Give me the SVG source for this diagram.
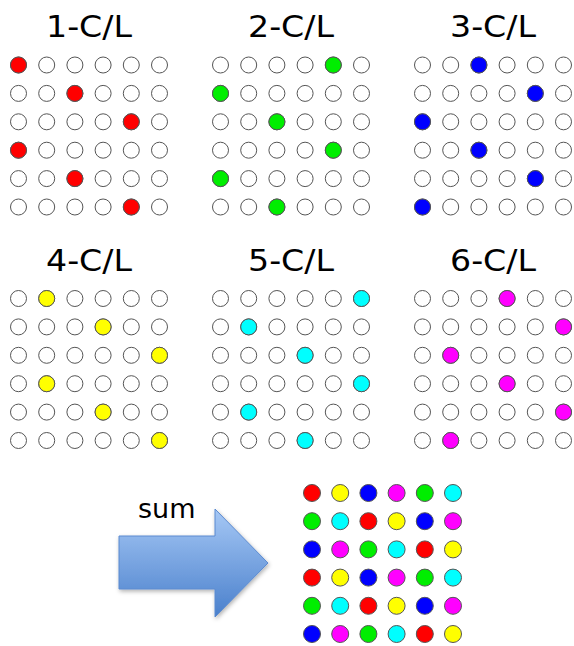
<svg xmlns="http://www.w3.org/2000/svg" xmlns:xlink="http://www.w3.org/1999/xlink" width="574" height="646" viewBox="0 0 574 646">
<style>
.t{font-family:"DejaVu Sans","Liberation Sans",sans-serif;font-size:31px;fill:#000;text-anchor:middle}
.s{font-family:"DejaVu Sans","Liberation Sans",sans-serif;font-size:27px;fill:#000}
circle{stroke:#555;stroke-width:1}
.w{fill:#fff}
.r{fill:#ff0000}.g{fill:#00ee00}.b{fill:#0000ff}.y{fill:#ffff00}.c{fill:#00ffff}.m{fill:#ff00ff}
</style>
<defs>
<g id="grid">
<circle class="w" cx="0" cy="0" r="8"/><circle class="w" cx="28.2" cy="0" r="8"/><circle class="w" cx="56.4" cy="0" r="8"/><circle class="w" cx="84.6" cy="0" r="8"/><circle class="w" cx="112.8" cy="0" r="8"/><circle class="w" cx="141" cy="0" r="8"/>
<circle class="w" cx="0" cy="28.4" r="8"/><circle class="w" cx="28.2" cy="28.4" r="8"/><circle class="w" cx="56.4" cy="28.4" r="8"/><circle class="w" cx="84.6" cy="28.4" r="8"/><circle class="w" cx="112.8" cy="28.4" r="8"/><circle class="w" cx="141" cy="28.4" r="8"/>
<circle class="w" cx="0" cy="56.8" r="8"/><circle class="w" cx="28.2" cy="56.8" r="8"/><circle class="w" cx="56.4" cy="56.8" r="8"/><circle class="w" cx="84.6" cy="56.8" r="8"/><circle class="w" cx="112.8" cy="56.8" r="8"/><circle class="w" cx="141" cy="56.8" r="8"/>
<circle class="w" cx="0" cy="85.2" r="8"/><circle class="w" cx="28.2" cy="85.2" r="8"/><circle class="w" cx="56.4" cy="85.2" r="8"/><circle class="w" cx="84.6" cy="85.2" r="8"/><circle class="w" cx="112.8" cy="85.2" r="8"/><circle class="w" cx="141" cy="85.2" r="8"/>
<circle class="w" cx="0" cy="113.6" r="8"/><circle class="w" cx="28.2" cy="113.6" r="8"/><circle class="w" cx="56.4" cy="113.6" r="8"/><circle class="w" cx="84.6" cy="113.6" r="8"/><circle class="w" cx="112.8" cy="113.6" r="8"/><circle class="w" cx="141" cy="113.6" r="8"/>
<circle class="w" cx="0" cy="142" r="8"/><circle class="w" cx="28.2" cy="142" r="8"/><circle class="w" cx="56.4" cy="142" r="8"/><circle class="w" cx="84.6" cy="142" r="8"/><circle class="w" cx="112.8" cy="142" r="8"/><circle class="w" cx="141" cy="142" r="8"/>
</g>
<linearGradient id="ag" gradientUnits="userSpaceOnUse" x1="0" y1="509" x2="0" y2="617">
<stop offset="0" stop-color="#a6c8f5"/>
<stop offset="1" stop-color="#4a80cc"/>
</linearGradient>
<filter id="sh" x="-20%" y="-20%" width="140%" height="140%">
<feDropShadow dx="1" dy="2" stdDeviation="2" flood-color="#000" flood-opacity="0.3"/>
</filter>
</defs>

<g id="cl1" transform="translate(18.5,65)">
<text class="t" x="70.5" y="-28" textLength="86" lengthAdjust="spacingAndGlyphs">1-C/L</text>
<use xlink:href="#grid"/>
<circle class="r" cx="0" cy="0" r="8"/><circle class="r" cx="56.4" cy="28.4" r="8"/><circle class="r" cx="112.8" cy="56.8" r="8"/><circle class="r" cx="0" cy="85.2" r="8"/><circle class="r" cx="56.4" cy="113.6" r="8"/><circle class="r" cx="112.8" cy="142" r="8"/>
</g>
<g id="cl2" transform="translate(220.5,65)">
<text class="t" x="70.5" y="-28" textLength="86" lengthAdjust="spacingAndGlyphs">2-C/L</text>
<use xlink:href="#grid"/>
<circle class="g" cx="112.8" cy="0" r="8"/><circle class="g" cx="0" cy="28.4" r="8"/><circle class="g" cx="56.4" cy="56.8" r="8"/><circle class="g" cx="112.8" cy="85.2" r="8"/><circle class="g" cx="0" cy="113.6" r="8"/><circle class="g" cx="56.4" cy="142" r="8"/>
</g>
<g id="cl3" transform="translate(422.5,65)">
<text class="t" x="70.5" y="-28" textLength="86" lengthAdjust="spacingAndGlyphs">3-C/L</text>
<use xlink:href="#grid"/>
<circle class="b" cx="56.4" cy="0" r="8"/><circle class="b" cx="112.8" cy="28.4" r="8"/><circle class="b" cx="0" cy="56.8" r="8"/><circle class="b" cx="56.4" cy="85.2" r="8"/><circle class="b" cx="112.8" cy="113.6" r="8"/><circle class="b" cx="0" cy="142" r="8"/>
</g>
<g id="cl4" transform="translate(18.5,298.5)">
<text class="t" x="70.5" y="-28" textLength="86" lengthAdjust="spacingAndGlyphs">4-C/L</text>
<use xlink:href="#grid"/>
<circle class="y" cx="28.2" cy="0" r="8"/><circle class="y" cx="84.6" cy="28.4" r="8"/><circle class="y" cx="141" cy="56.8" r="8"/><circle class="y" cx="28.2" cy="85.2" r="8"/><circle class="y" cx="84.6" cy="113.6" r="8"/><circle class="y" cx="141" cy="142" r="8"/>
</g>
<g id="cl5" transform="translate(220.5,298.5)">
<text class="t" x="70.5" y="-28" textLength="86" lengthAdjust="spacingAndGlyphs">5-C/L</text>
<use xlink:href="#grid"/>
<circle class="c" cx="141" cy="0" r="8"/><circle class="c" cx="28.2" cy="28.4" r="8"/><circle class="c" cx="84.6" cy="56.8" r="8"/><circle class="c" cx="141" cy="85.2" r="8"/><circle class="c" cx="28.2" cy="113.6" r="8"/><circle class="c" cx="84.6" cy="142" r="8"/>
</g>
<g id="cl6" transform="translate(422.5,298.5)">
<text class="t" x="70.5" y="-28" textLength="86" lengthAdjust="spacingAndGlyphs">6-C/L</text>
<use xlink:href="#grid"/>
<circle class="m" cx="84.6" cy="0" r="8"/><circle class="m" cx="141" cy="28.4" r="8"/><circle class="m" cx="28.2" cy="56.8" r="8"/><circle class="m" cx="84.6" cy="85.2" r="8"/><circle class="m" cx="141" cy="113.6" r="8"/><circle class="m" cx="28.2" cy="142" r="8"/>
</g>

<g id="arrow">
<polygon points="119,536 215,536 215,509 268,563 215,617 215,589 119,589" fill="url(#ag)" stroke="#5a8ad0" stroke-width="1" filter="url(#sh)"/>
<text class="s" x="138" y="518">sum</text>
</g>

<g id="sum" transform="translate(312,493)">
<circle class="r" cx="0" cy="0" r="8.5"/><circle class="y" cx="28.2" cy="0" r="8.5"/><circle class="b" cx="56.4" cy="0" r="8.5"/><circle class="m" cx="84.6" cy="0" r="8.5"/><circle class="g" cx="112.8" cy="0" r="8.5"/><circle class="c" cx="141" cy="0" r="8.5"/>
<circle class="g" cx="0" cy="28.2" r="8.5"/><circle class="c" cx="28.2" cy="28.2" r="8.5"/><circle class="r" cx="56.4" cy="28.2" r="8.5"/><circle class="y" cx="84.6" cy="28.2" r="8.5"/><circle class="b" cx="112.8" cy="28.2" r="8.5"/><circle class="m" cx="141" cy="28.2" r="8.5"/>
<circle class="b" cx="0" cy="56.4" r="8.5"/><circle class="m" cx="28.2" cy="56.4" r="8.5"/><circle class="g" cx="56.4" cy="56.4" r="8.5"/><circle class="c" cx="84.6" cy="56.4" r="8.5"/><circle class="r" cx="112.8" cy="56.4" r="8.5"/><circle class="y" cx="141" cy="56.4" r="8.5"/>
<circle class="r" cx="0" cy="84.6" r="8.5"/><circle class="y" cx="28.2" cy="84.6" r="8.5"/><circle class="b" cx="56.4" cy="84.6" r="8.5"/><circle class="m" cx="84.6" cy="84.6" r="8.5"/><circle class="g" cx="112.8" cy="84.6" r="8.5"/><circle class="c" cx="141" cy="84.6" r="8.5"/>
<circle class="g" cx="0" cy="112.8" r="8.5"/><circle class="c" cx="28.2" cy="112.8" r="8.5"/><circle class="r" cx="56.4" cy="112.8" r="8.5"/><circle class="y" cx="84.6" cy="112.8" r="8.5"/><circle class="b" cx="112.8" cy="112.8" r="8.5"/><circle class="m" cx="141" cy="112.8" r="8.5"/>
<circle class="b" cx="0" cy="141" r="8.5"/><circle class="m" cx="28.2" cy="141" r="8.5"/><circle class="g" cx="56.4" cy="141" r="8.5"/><circle class="c" cx="84.6" cy="141" r="8.5"/><circle class="r" cx="112.8" cy="141" r="8.5"/><circle class="y" cx="141" cy="141" r="8.5"/>
</g>
</svg>
